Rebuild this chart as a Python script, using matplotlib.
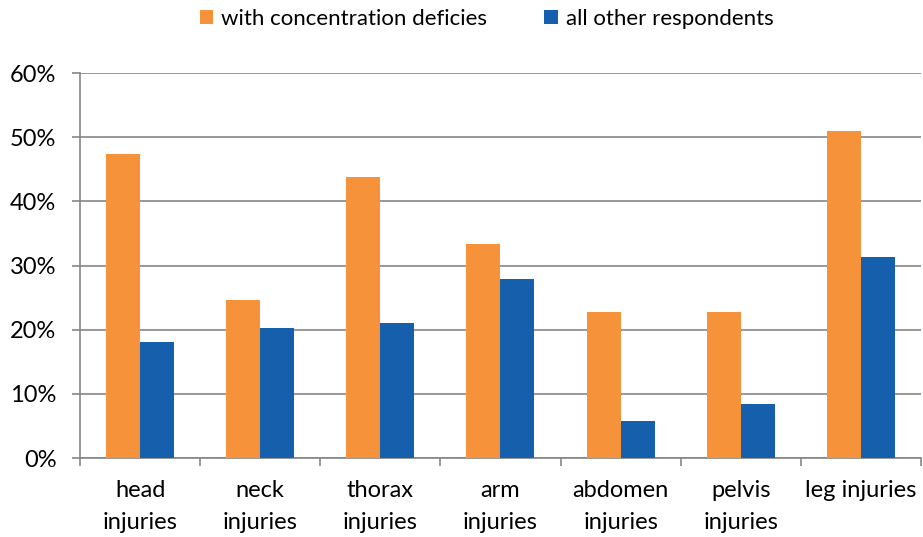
import numpy as np
import matplotlib.pyplot as plt
from matplotlib.ticker import FuncFormatter

categories = ['head\ninjuries', 'neck\ninjuries', 'thorax\ninjuries', 'arm\ninjuries',
              'abdomen\ninjuries', 'pelvis\ninjuries', 'leg injuries']
with_deficits = [47.4, 24.6, 43.8, 33.3, 22.8, 22.8, 51.0]
all_others = [18.1, 20.3, 21.0, 27.9, 5.8, 8.4, 31.3]
series_names = ['with concentration deficies', 'all other respondents']

plt.rcParams['font.family'] = ['Lato', 'DejaVu Sans']
fs = 17

fig = plt.figure(figsize=(9.23, 5.37), dpi=100)
ax = fig.add_axes([0.0867, 0.147, 0.911, 0.717])

x = np.arange(len(categories))
w = 0.283
ax.bar(x - w / 2, with_deficits, w, color='#F6923A', label=series_names[0], zorder=3)
ax.bar(x + w / 2, all_others, w, color='#165FAC', label=series_names[1], zorder=3)

ax.set_xlim(-0.5, len(categories) - 0.5)
ax.set_ylim(0, 60)
ax.set_yticks(np.arange(0, 61, 10))
ax.yaxis.set_major_formatter(FuncFormatter(lambda v, p: f'{v:.0f}%'))
ax.grid(axis='y', color='#868686', linewidth=1.2, zorder=0)

ax.set_xticks(x)
ax.set_xticklabels(categories, fontsize=fs, linespacing=1.62)
ax.set_xticks(np.arange(-0.5, len(categories)), minor=True)
ax.tick_params(axis='x', which='major', length=0, pad=16)
ax.tick_params(axis='x', which='minor', length=6, color='#868686', width=1.2)
ax.tick_params(axis='y', length=6, color='#868686', width=1.2, labelsize=fs, pad=11)

for s in ['top', 'right']:
    ax.spines[s].set_visible(False)
for s in ['left', 'bottom']:
    ax.spines[s].set_color('#868686')
    ax.spines[s].set_linewidth(1.2)

fig.legend(loc='center', bbox_to_anchor=(0.527, 0.965), ncol=2, frameon=False,
           fontsize=16, handlelength=0.6, handleheight=0.6, handletextpad=0.35,
           columnspacing=2.6)

fig.savefig('out.png', dpi=100)
